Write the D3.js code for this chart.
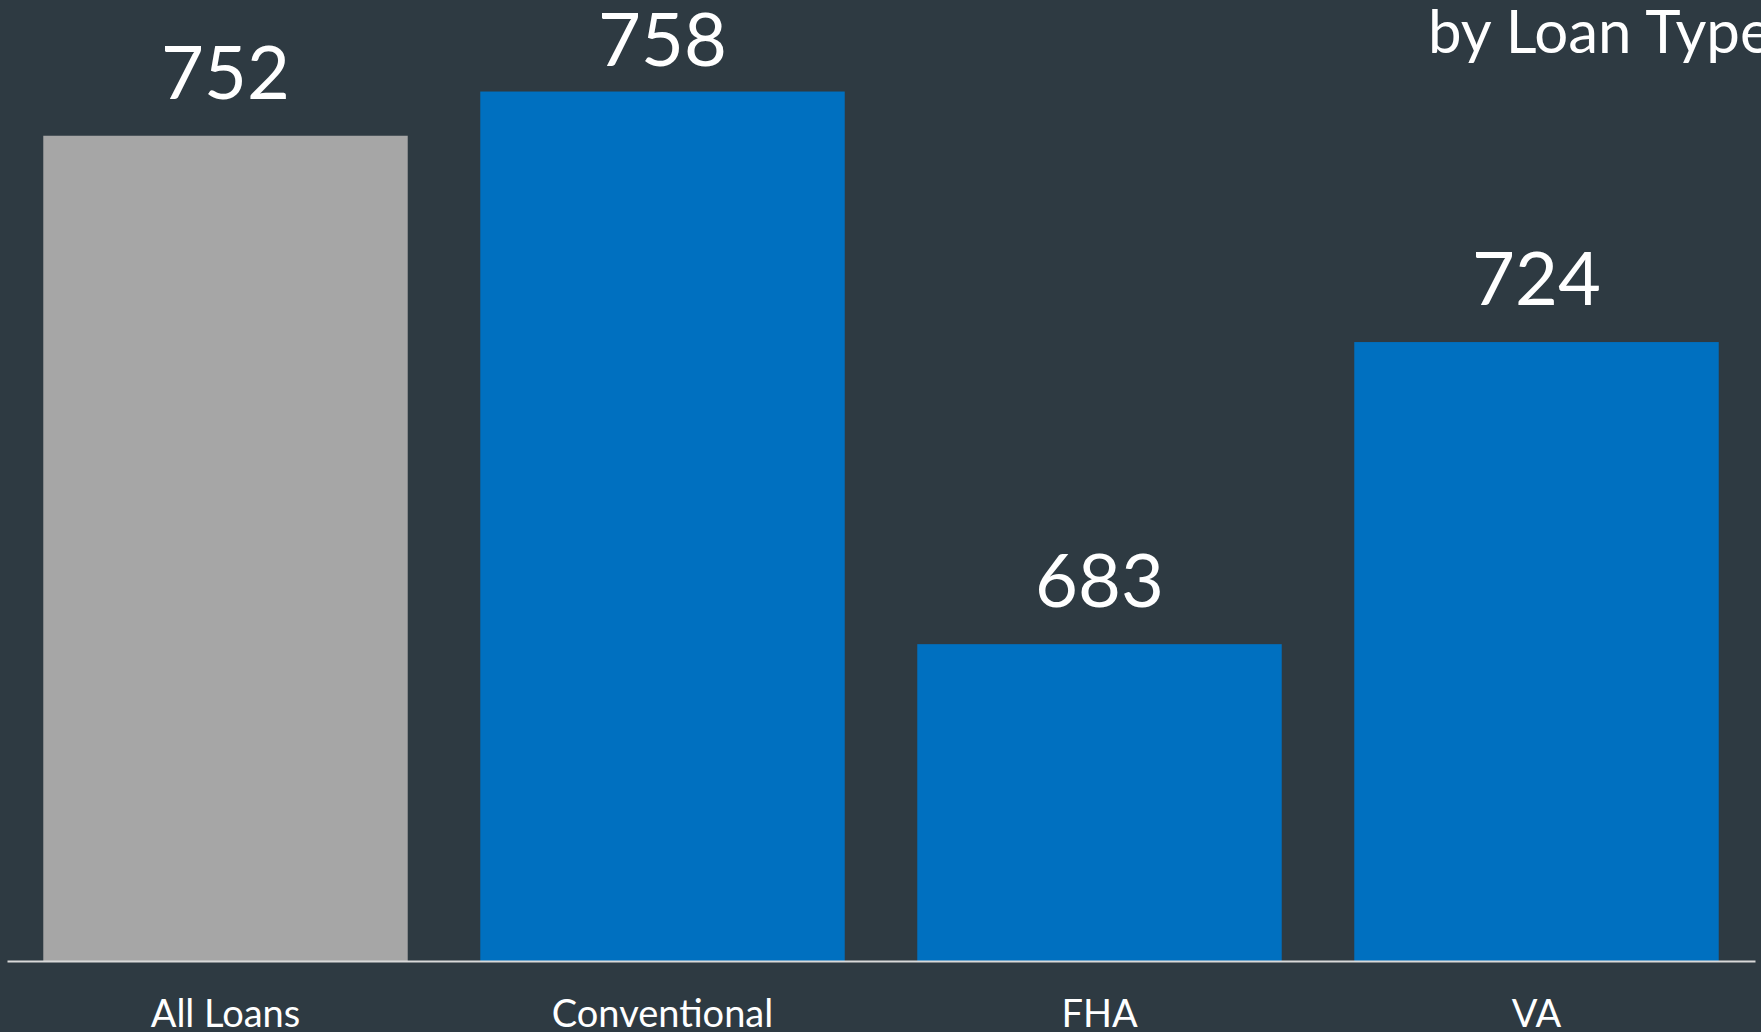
<!DOCTYPE html>
<html>
<head>
<meta charset="utf-8">
<script src="https://cdn.jsdelivr.net/npm/d3@7/dist/d3.min.js"></script>
<style>
  html, body { margin: 0; padding: 0; background: #2e3a42; overflow: hidden; }
  svg { display: block; }
</style>
</head>
<body>
<svg id="chart" width="1761" height="1032"></svg>
<script>
// Average credit score by loan type
const categories = ["All Loans", "Conventional", "FHA", "VA"];
const scores = [752, 758, 683, 724];
const barColors = ["#a6a6a6", "#0070c0", "#0070c0", "#0070c0"];
const yDomain = [640, 760];
const title = "by Loan Type";

const W = 1761, H = 1032;
const baseY = 961;
const svg = d3.select("#chart");

svg.append("rect").attr("width", W).attr("height", H).attr("fill", "#2e3a42");

const x = d3.scaleBand()
  .domain(categories)
  .range([7, 1755])
  .paddingInner(0.166)
  .paddingOuter(0.083);

const y = d3.scaleLinear()
  .domain(yDomain)
  .range([baseY, baseY - 884.2]);

const data = categories.map((c, i) => ({ cat: c, value: scores[i], color: barColors[i] }));

// bars
svg.append("g").selectAll("rect")
  .data(data)
  .join("rect")
  .attr("x", d => x(d.cat))
  .attr("y", d => y(d.value))
  .attr("width", x.bandwidth())
  .attr("height", d => baseY - y(d.value))
  .attr("fill", d => d.color);

// value labels above each bar, kept inside the chart area
svg.append("g").selectAll("text")
  .data(data)
  .join("text")
  .attr("x", d => x(d.cat) + x.bandwidth() / 2)
  .attr("y", d => Math.max(y(d.value) - 37, 66))
  .attr("text-anchor", "middle")
  .attr("fill", "#ffffff")
  .attr("font-family", "Lato, 'Open Sans', sans-serif")
  .attr("font-size", 74)
  .text(d => d.value);

// category axis
const xAxis = svg.append("g")
  .attr("transform", `translate(0,${baseY})`)
  .call(d3.axisBottom(x).tickSize(0).tickPadding(0));
xAxis.select(".domain").attr("stroke", "#d9d9d9").attr("stroke-width", 2);
xAxis.selectAll(".tick text")
  .attr("y", 66)
  .attr("dy", 0)
  .attr("fill", "#ffffff")
  .attr("font-family", "Lato, 'Open Sans', sans-serif")
  .attr("font-size", 38);

// title fragment at top right
svg.append("text")
  .attr("x", 1428)
  .attr("y", 53)
  .attr("fill", "#ffffff")
  .attr("font-family", "Lato, 'Open Sans', sans-serif")
  .attr("font-size", 60)
  .text(title);
</script>
</body>
</html>
